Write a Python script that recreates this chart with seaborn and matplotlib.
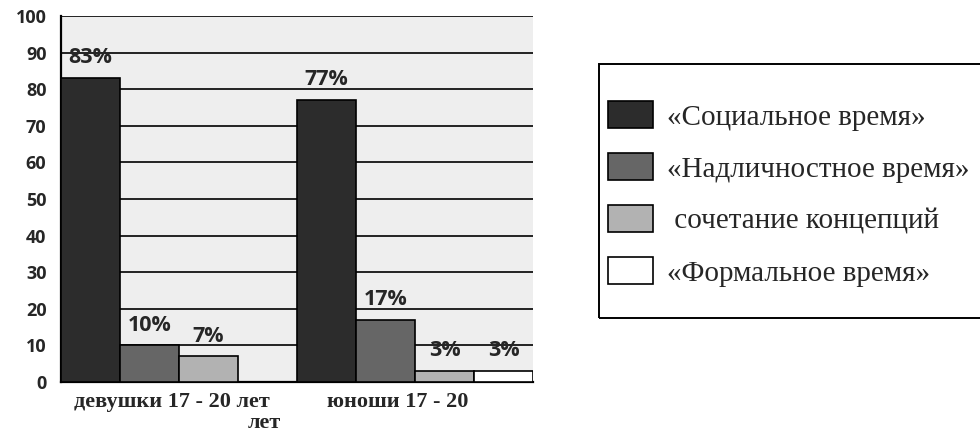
import matplotlib
matplotlib.use("Agg")
import matplotlib.pyplot as plt
import matplotlib.patches as mpatches
import matplotlib.transforms as mtransforms
import seaborn as sns
import pandas as pd

# ---- data ----
groups = ["девушки 17 - 20 лет", "юноши 17 - 20"]
extra_label = "лет"
series = ["«Социальное время»", "«Надличностное время»", " сочетание концепций", "«Формальное время»"]
girls = [83, 10, 7, 0]
boys = [77, 17, 3, 3]
colors = ["#2c2c2c", "#666666", "#b2b2b2", "#ffffff"]
yticks = [0, 10, 20, 30, 40, 50, 60, 70, 80, 90, 100]

rows = []
for s, g, b in zip(series, girls, boys):
    rows.append({"group": groups[0], "series": s, "value": g})
    rows.append({"group": groups[1], "series": s, "value": b})
df = pd.DataFrame(rows)

sns.set_style("white")
plt.rcParams["font.family"] = ["Open Sans", "DejaVu Sans"]

W, H = 980, 437
fig = plt.figure(figsize=(W/100, H/100), dpi=100)
ax = fig.add_axes([61/W, 1-382/H, 472/W, 366/H])
ax.set_facecolor("#eeeeee")

sns.barplot(data=df, x="group", y="value", hue="series", order=groups,
            hue_order=series, palette=colors, width=1.0, dodge=True,
            edgecolor="black", linewidth=1.2, ax=ax, legend=False, zorder=3)

ax.set_xlim(-0.5, 1.5)
ax.set_ylim(0, 100)
ax.set_yticks(yticks)
ax.set_yticklabels([str(t) for t in yticks], fontfamily="Open Sans",
                   fontweight="bold", fontsize=13)
ax.yaxis.grid(True, color="black", linewidth=1.2, zorder=0)
ax.xaxis.grid(False)
ax.set_axisbelow(True)

ax.set_xticks([0, 1])
ax.set_xticklabels(groups, fontfamily="Liberation Serif", fontweight="bold", fontsize=16)
ax.set_xticks([-0.5, -0.25, 0.25, 0.5, 0.75, 1.25, 1.5], minor=True)
ax.tick_params(axis="x", which="both", direction="out", length=4, width=1.2, color="black", pad=3)
ax.tick_params(axis="y", direction="out", length=5.5, width=1.2, color="black", pad=5)
ax.set_xlabel("")
ax.set_ylabel("")
# shift category labels slightly left as in the reference
for lbl, dx in zip(ax.get_xticklabels(), [-7, -17]):
    lbl.set_transform(lbl.get_transform() + mtransforms.ScaledTranslation(dx/100, 0, fig.dpi_scale_trans))

for sp in ["top", "right"]:
    ax.spines[sp].set_visible(False)
for sp in ["left", "bottom"]:
    ax.spines[sp].set_color("black")
    ax.spines[sp].set_linewidth(1.6)

for cont in ax.containers:
    labels = [f"{v:.0f}%" if v > 0 else "" for v in cont.datavalues]
    ax.bar_label(cont, labels=labels, padding=7, fontfamily="Open Sans",
                 fontweight="bold", fontsize=15.5)

ax.text(0.36, -(423-382)/366, extra_label, transform=ax.get_xaxis_transform(),
        ha="center", va="center", fontfamily="Liberation Serif",
        fontweight="bold", fontsize=16)

# legend
fs = 21
fpx = fs * 100 / 72
handles = [mpatches.Patch(facecolor=c, edgecolor="black", linewidth=1.2) for c in colors]
leg = fig.legend(handles, series, loc="upper left", bbox_to_anchor=(608/W, 1-101/H),
                 frameon=False, prop={"family": "Liberation Serif", "size": fs},
                 handlelength=45/fpx, handleheight=31/fpx, labelspacing=0.77,
                 handletextpad=0.48, borderpad=0, borderaxespad=0)
frame = mpatches.Rectangle((599/W, 1-318/H), 0.5, (318-64)/H,
                           transform=fig.transFigure, facecolor="none",
                           edgecolor="black", linewidth=1.4)
fig.patches.append(frame)

fig.savefig("out.png", dpi=100)
